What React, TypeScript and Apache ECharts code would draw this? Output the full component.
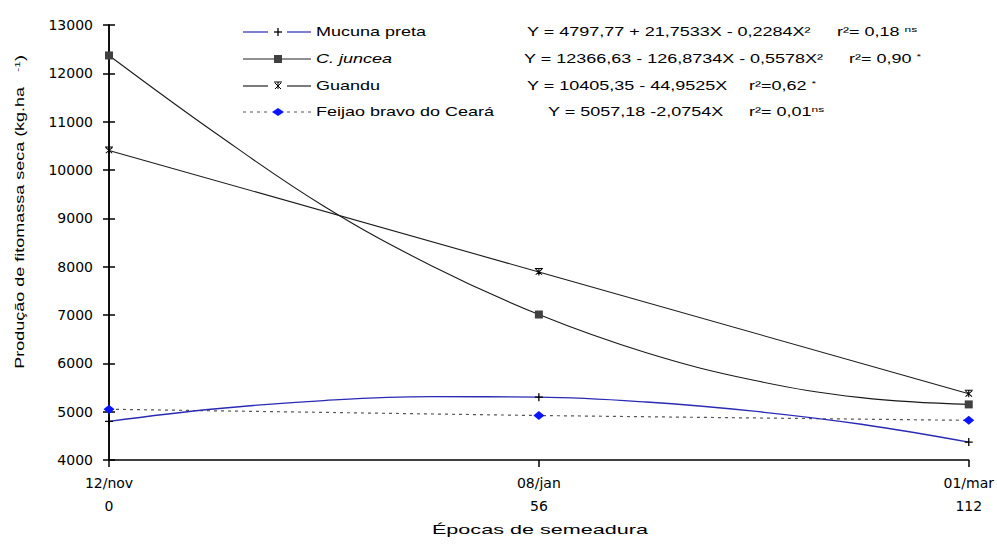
import React, { useEffect, useRef } from "react";
import * as echarts from "echarts";

// ---- data ----
const epochDays = [0, 56, 112];
const epochDates = ["12/nov", "08/jan", "01/mar"];
const curveDays = [0, 14, 28, 42, 56, 70, 84, 98, 112];
const mucunaPreta = [4800, 5060, 5230, 5310, 5300, 5200, 5010, 4740, 4370];
const cJuncea = [12370, 10750, 9250, 8020, 7010, 6220, 5650, 5290, 5150];
const guandu = [10405, 7890, 5370];
const feijaoBravo = [5050, 4920, 4820];
const seriesNames = ["Mucuna preta", "C. juncea", "Guandu", "Feijao bravo do Ceará"];
const equations = [
  "Y = 4797,77 + 21,7533X - 0,2284X²",
  "Y = 12366,63 - 126,8734X - 0,5578X²",
  "Y = 10405,35 - 44,9525X",
  "Y = 5057,18 -2,0754X",
];
const r2Texts = ["= 0,18 ", "= 0,90 ", "=0,62 ", "= 0,01"];
const significance = ["ns", "*", "*", "ns"];

// ---- style / layout ----
const FONT = "'Liberation Sans', Arial, sans-serif";
const SX = 1.5;
const BLUE_LINE = "#2a2ab4";
const rowsY = [32, 59, 86, 112];
const eqX = [527, 524, 527, 548];
const r2X = [837, 849, 749, 749];

const plusSymbol = "path://M0,5L10,5M5,0L5,10";
const starSymbol = "path://M0,0L10,0M1,1L9,9M9,1L1,9M5,0L5,10";

function markedData(days: number[], vals: number[]) {
  return days.map((d, i) => ({
    value: [d, vals[i]],
    symbol: epochDays.indexOf(d) >= 0 ? undefined : "none",
  }));
}

function buildGraphic() {
  const g: any[] = [];
  const lx0 = 243, lx1 = 311, mx = 278;
  rowsY.forEach((y, i) => {
    const lineColor = i === 0 ? BLUE_LINE : i === 3 ? "#555" : "#222";
    const dash = i === 3 ? [3, 4] : null;
    const gapL = i === 1 ? mx : mx - 10;
    const gapR = i === 1 ? mx : mx + 9;
    g.push({ type: "line", shape: { x1: lx0, y1: y, x2: gapL, y2: y }, style: { stroke: lineColor, lineWidth: 1.2, lineDash: dash } });
    g.push({ type: "line", shape: { x1: gapR, y1: y, x2: lx1, y2: y }, style: { stroke: lineColor, lineWidth: 1.2, lineDash: dash } });
    if (i === 0) {
      g.push({ type: "line", shape: { x1: mx - 4, y1: y, x2: mx + 4, y2: y }, style: { stroke: "#000", lineWidth: 1.3 } });
      g.push({ type: "line", shape: { x1: mx, y1: y - 4, x2: mx, y2: y + 4 }, style: { stroke: "#000", lineWidth: 1.3 } });
    } else if (i === 1) {
      g.push({ type: "rect", shape: { x: mx - 4, y: y - 4, width: 8, height: 8 }, style: { fill: "#404040" } });
    } else if (i === 2) {
      g.push({ type: "line", shape: { x1: mx - 4, y1: y - 4, x2: mx + 4, y2: y - 4 }, style: { stroke: "#000", lineWidth: 1 } });
      g.push({ type: "line", shape: { x1: mx, y1: y - 4, x2: mx, y2: y + 3 }, style: { stroke: "#000", lineWidth: 1 } });
      g.push({ type: "line", shape: { x1: mx - 3, y1: y - 3, x2: mx + 3, y2: y + 3 }, style: { stroke: "#000", lineWidth: 1 } });
      g.push({ type: "line", shape: { x1: mx + 3, y1: y - 3, x2: mx - 3, y2: y + 3 }, style: { stroke: "#000", lineWidth: 1 } });
    } else {
      g.push({ type: "polygon", shape: { points: [[mx - 6, y], [mx, y - 4], [mx + 6, y], [mx, y + 4]] }, style: { fill: "#0a14ff" } });
    }
    const nameStyle: any = i === 1
      ? { text: "{i|C.}{t| }{i|juncea}", rich: { i: { fontStyle: "italic", fontSize: 12, fontFamily: FONT, fill: "#000" }, t: { fontSize: 12, fontFamily: FONT, fill: "#000" } } }
      : { text: seriesNames[i], fontSize: 12, fontFamily: FONT, fill: "#000" };
    g.push({ type: "text", x: 316, y, scaleX: SX, style: { ...nameStyle, align: "left", verticalAlign: "middle" } });
    g.push({ type: "text", x: eqX[i], y, scaleX: SX, style: { text: equations[i], fontSize: 12, fontFamily: FONT, fill: "#000", align: "left", verticalAlign: "middle" } });
    g.push({
      type: "text", x: r2X[i], y, scaleX: SX,
      style: {
        text: "{t|r²" + r2Texts[i] + "}{s|" + significance[i] + "}",
        align: "left", verticalAlign: "middle",
        rich: {
          t: { fontSize: 12, fontFamily: FONT, fill: "#000", lineHeight: 14 },
          s: { fontSize: 8, fontFamily: FONT, fill: "#000", verticalAlign: "top", lineHeight: 8 },
        },
      },
    });
  });
  // y axis title
  g.push({
    type: "text", x: 20, y: 212, rotation: Math.PI / 2, scaleX: SX,
    style: {
      text: "{t|Produção de fitomassa seca (kg.ha   }{s|-1}{t|)}",
      align: "center", verticalAlign: "middle",
      rich: {
        t: { fontSize: 12, fontFamily: FONT, fill: "#000", lineHeight: 14 },
        s: { fontSize: 8, fontFamily: FONT, fill: "#000", verticalAlign: "top", lineHeight: 8 },
      },
    },
  });
  // x axis title
  g.push({
    type: "text", x: 540, y: 530, scaleX: 1.8,
    style: { text: "Épocas de semeadura", fontSize: 12, fontFamily: FONT, fill: "#000", align: "center", verticalAlign: "middle" },
  });
  return g;
}

export default function App() {
  const ref = useRef<HTMLDivElement>(null);
  useEffect(() => {
    if (!ref.current) return;
    const chart = echarts.init(ref.current, null, { renderer: "svg" });
    const axisLabelBase = { color: "#000", fontFamily: "'DejaVu Sans', sans-serif", fontSize: 14 };
    const option: any = {
      animation: false,
      backgroundColor: "#fff",
      grid: { left: 109, right: 24, top: 25, bottom: 85 },
      xAxis: [
        {
          type: "value", min: 0, max: 112, interval: 56,
          axisLine: { lineStyle: { color: "#000", width: 1.5 } },
          axisTick: { length: 7, lineStyle: { color: "#000", width: 1.5 } },
          axisLabel: {
            ...axisLabelBase, lineHeight: 23, margin: 11,
            formatter: (v: number) => {
              const k = epochDays.indexOf(v);
              return (k >= 0 ? epochDates[k] : "") + "\n" + String(v);
            },
          },
          splitLine: { show: false },
        },
      ],
      yAxis: [
        {
          type: "value", min: 4000, max: 13000, interval: 1000, position: "left",
          axisLine: { show: true, lineStyle: { color: "#000", width: 1.5 } },
          axisTick: { show: true, length: 6, lineStyle: { color: "#000", width: 1.5 } },
          axisLabel: { ...axisLabelBase, margin: 16, formatter: (v: number) => String(v) },
          splitLine: { show: false },
        },
        {
          type: "value", min: 4000, max: 13000, interval: 1000, position: "left",
          axisLine: { show: true, lineStyle: { color: "#000", width: 1.5 } },
          axisTick: { show: true, inside: true, length: 6, lineStyle: { color: "#000", width: 1.5 } },
          axisLabel: { show: false },
          splitLine: { show: false },
        },
      ],
      series: [
        {
          name: seriesNames[3], type: "line", clip: false,
          data: epochDays.map((d, i) => [d, feijaoBravo[i]]),
          symbol: "diamond", symbolSize: [11, 9],
          lineStyle: { color: "#555", width: 1.2, type: [3, 4] },
          itemStyle: { color: "#0a14ff", borderColor: "#0a14ff", borderWidth: 0 },
        },
        {
          name: seriesNames[0], type: "line", clip: false, smooth: 0.4,
          data: markedData(curveDays, mucunaPreta),
          symbol: plusSymbol, symbolSize: 8,
          lineStyle: { color: BLUE_LINE, width: 1.3 },
          itemStyle: { color: "#000", borderColor: "#000", borderWidth: 1.3 },
        },
        {
          name: seriesNames[1], type: "line", clip: false, smooth: 0.4,
          data: markedData(curveDays, cJuncea),
          symbol: "rect", symbolSize: 8,
          lineStyle: { color: "#1a1a1a", width: 1.1 },
          itemStyle: { color: "#404040", borderWidth: 0 },
        },
        {
          name: seriesNames[2], type: "line", clip: false,
          data: epochDays.map((d, i) => [d, guandu[i]]),
          symbol: starSymbol, symbolSize: [8, 7],
          lineStyle: { color: "#1a1a1a", width: 1.1 },
          itemStyle: { color: "#000", borderColor: "#000", borderWidth: 1 },
        },
      ],
      graphic: buildGraphic(),
    };
    chart.setOption(option);
    return () => chart.dispose();
  }, []);
  return (
    <div
      ref={ref}
      style={{ position: "fixed", left: 0, top: 0, width: 997, height: 545, background: "#fff" }}
    />
  );
}
